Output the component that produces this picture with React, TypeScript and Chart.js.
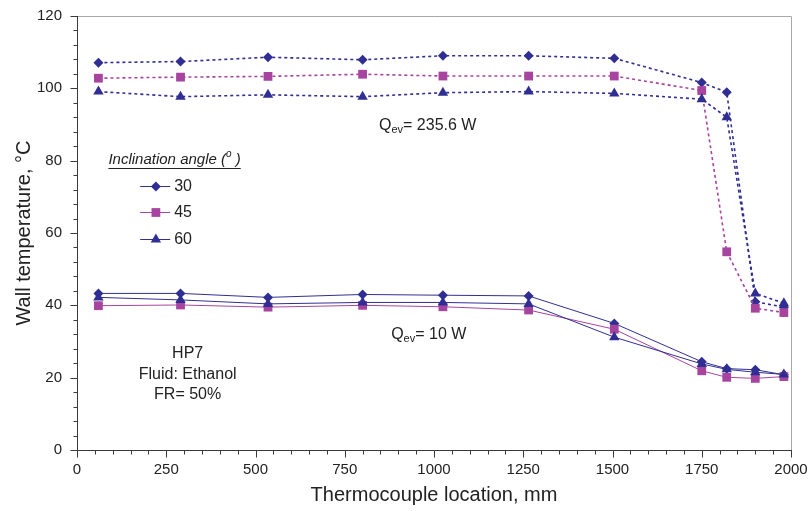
import React, { useEffect, useRef } from 'react';
import { Chart, registerables } from 'chart.js';

Chart.register(...registerables);

// Thermocouple locations (mm)
const locations = [60, 290, 535, 800, 1025, 1265, 1505, 1750, 1820, 1900, 1980];

// Qev = 235.6 W
const high30 = [107.1, 107.4, 108.6, 107.9, 109.0, 109.0, 108.3, 101.6, 98.9, 41.0, 39.5];
const high45 = [102.8, 103.1, 103.3, 103.9, 103.4, 103.4, 103.4, 99.4, 54.8, 39.2, 38.0];
const high60 = [99.1, 97.7, 98.2, 97.7, 98.8, 99.1, 98.6, 97.0, 92.0, 43.3, 40.6];

// Qev = 10 W
const low30 = [43.3, 43.3, 42.2, 43.0, 42.8, 42.6, 35.0, 24.4, 22.5, 22.2, 20.8];
const low45 = [39.9, 40.1, 39.5, 40.0, 39.6, 38.7, 33.4, 21.9, 20.1, 19.8, 20.3];
const low60 = [42.2, 41.5, 40.4, 40.8, 40.8, 40.4, 31.2, 23.8, 22.3, 21.5, 20.9];

const angleLabels = ['30', '45', '60'];
const xTickStep = 250;
const xMinorStep = 50;
const yTickStep = 20;
const yMinorStep = 4;

const NAVY = '#302e93';
const MAGENTA = '#a6449f';
const FONT = '"Liberation Sans", Arial, sans-serif';

const toXY = (ys: number[]) => locations.map((x, i) => ({ x, y: ys[i] }));

type Style = { color: string; point: 'rectRot' | 'rect' | 'triangle'; radius: number };
const styles: Record<string, Style> = {
  '30': { color: NAVY, point: 'rectRot', radius: 5 },
  '45': { color: MAGENTA, point: 'rect', radius: 6.2 },
  '60': { color: NAVY, point: 'triangle', radius: 6 },
};

function drawMarker(ctx: CanvasRenderingContext2D, s: Style, x: number, y: number) {
  const r = s.radius;
  ctx.beginPath();
  if (s.point === 'rectRot') {
    ctx.moveTo(x - r, y);
    ctx.lineTo(x, y - r);
    ctx.lineTo(x + r, y);
    ctx.lineTo(x, y + r);
  } else if (s.point === 'rect') {
    const h = r * Math.SQRT1_2;
    ctx.rect(x - h, y - h, 2 * h, 2 * h);
  } else {
    ctx.moveTo(x, y - r);
    ctx.lineTo(x + r * Math.cos(Math.PI / 6), y + r / 2);
    ctx.lineTo(x - r * Math.cos(Math.PI / 6), y + r / 2);
  }
  ctx.closePath();
  ctx.fillStyle = s.color;
  ctx.fill();
}

function drawQ(ctx: CanvasRenderingContext2D, x: number, y: number, rest: string) {
  ctx.textBaseline = 'middle';
  ctx.textAlign = 'left';
  ctx.fillStyle = '#222';
  ctx.font = `16px ${FONT}`;
  ctx.fillText('Q', x, y);
  let cx = x + ctx.measureText('Q').width;
  ctx.font = `11px ${FONT}`;
  ctx.fillText('ev', cx, y + 5);
  cx += ctx.measureText('ev').width;
  ctx.font = `16px ${FONT}`;
  ctx.fillText(rest, cx, y);
}

const decorPlugin = {
  id: 'decor',
  beforeDatasetsDraw(chart: any) {
    const { ctx, chartArea: a, scales } = chart;
    const xs = scales.x;
    const ys = scales.y;
    ctx.save();
    // light frame (top & right)
    ctx.strokeStyle = '#a8a8a8';
    ctx.lineWidth = 1;
    ctx.beginPath();
    ctx.moveTo(Math.round(a.left), Math.round(a.top) + 0.5);
    ctx.lineTo(Math.round(a.right) + 0.5, Math.round(a.top) + 0.5);
    ctx.lineTo(Math.round(a.right) + 0.5, Math.round(a.bottom));
    ctx.stroke();
    // axes lines
    ctx.strokeStyle = '#3a3a3a';
    const L = Math.round(a.left) + 0.5;
    const B = Math.round(a.bottom) + 0.5;
    ctx.beginPath();
    ctx.moveTo(L, Math.round(a.top));
    ctx.lineTo(L, B);
    ctx.lineTo(Math.round(a.right) + 1, B);
    ctx.stroke();
    // ticks
    ctx.beginPath();
    for (let v = xs.min; v <= xs.max + 0.001; v += xMinorStep) {
      const px = Math.round(xs.getPixelForValue(v)) + 0.5;
      const len = Math.abs(v % xTickStep) < 0.001 ? 7 : 4;
      ctx.moveTo(px, B);
      ctx.lineTo(px, B + len);
    }
    for (let v = ys.min; v <= ys.max + 0.001; v += yMinorStep) {
      const py = Math.round(ys.getPixelForValue(v)) + 0.5;
      const len = Math.abs(v % yTickStep) < 0.001 ? 7 : 4;
      ctx.moveTo(L, py);
      ctx.lineTo(L - len, py);
    }
    ctx.stroke();
    ctx.restore();
  },
  afterDraw(chart: any) {
    const { ctx, scales } = chart;
    const xs = scales.x;
    const ys = scales.y;
    ctx.save();
    // Annotations anchored to data coordinates
    drawQ(ctx, xs.getPixelForValue(846), ys.getPixelForValue(89.8), '= 235.6 W');
    drawQ(ctx, xs.getPixelForValue(880), ys.getPixelForValue(32.0), '= 10 W');

    ctx.font = `16px ${FONT}`;
    ctx.fillStyle = '#222';
    ctx.textAlign = 'center';
    ctx.textBaseline = 'middle';
    const cx = xs.getPixelForValue(310);
    ctx.fillText('HP7', cx, ys.getPixelForValue(26.6));
    ctx.fillText('Fluid: Ethanol', cx, ys.getPixelForValue(20.9));
    ctx.fillText('FR= 50%', cx, ys.getPixelForValue(15.2));

    // Legend
    const lx = xs.getPixelForValue(88);
    const ty = ys.getPixelForValue(80.3);
    ctx.textAlign = 'left';
    ctx.font = `italic 15px ${FONT}`;
    const t1 = 'Inclination angle (';
    ctx.fillText(t1, lx, ty);
    let w = ctx.measureText(t1).width;
    ctx.font = `italic 10px ${FONT}`;
    ctx.fillText('o', lx + w, ty - 5);
    w += ctx.measureText('o').width;
    ctx.font = `italic 15px ${FONT}`;
    ctx.fillText(' )', lx + w, ty);
    w += ctx.measureText(' )').width;
    ctx.strokeStyle = '#222';
    ctx.lineWidth = 1;
    ctx.beginPath();
    ctx.moveTo(lx, Math.round(ty + 8) + 0.5);
    ctx.lineTo(lx + w, Math.round(ty + 8) + 0.5);
    ctx.stroke();

    const rowsY = [73.0, 65.8, 58.3];
    const lineX0 = xs.getPixelForValue(177);
    const lineX1 = xs.getPixelForValue(261);
    const markX = xs.getPixelForValue(221);
    angleLabels.forEach((lab, i) => {
      const s = styles[lab];
      const py = Math.round(ys.getPixelForValue(rowsY[i])) + 0.5;
      ctx.strokeStyle = s.color;
      ctx.lineWidth = 1;
      ctx.beginPath();
      ctx.moveTo(lineX0, py);
      ctx.lineTo(lineX1, py);
      ctx.stroke();
      drawMarker(ctx, s, markX, py);
      ctx.fillStyle = '#222';
      ctx.font = `16px ${FONT}`;
      ctx.fillText(lab, lineX1 + 4, py);
    });
    ctx.restore();
  },
};

function ds(lab: string, ys: number[], dotted: boolean) {
  const s = styles[lab];
  return {
    label: lab,
    data: toXY(ys),
    borderColor: s.color,
    backgroundColor: s.color,
    borderWidth: dotted ? 1.6 : 1,
    borderDash: dotted ? [3, 3] : [],
    pointStyle: s.point,
    pointRadius: s.radius,
    pointBorderWidth: 0,
    pointBackgroundColor: s.color,
    pointBorderColor: s.color,
    tension: 0,
    fill: false,
  };
}

export default function App() {
  const ref = useRef<HTMLCanvasElement | null>(null);
  useEffect(() => {
    if (!ref.current) return;
    const chart = new Chart(ref.current, {
      type: 'line',
      data: {
        datasets: [
          ds('60', low60, false),
          ds('45', low45, false),
          ds('30', low30, false),
          ds('60', high60, true),
          ds('45', high45, true),
          ds('30', high30, true),
        ] as any,
      },
      options: {
        animation: false,
        responsive: false,
        devicePixelRatio: 1,
        layout: { padding: { top: 16, right: 18, left: 0, bottom: 0 } },
        plugins: { legend: { display: false }, tooltip: { enabled: false } },
        scales: {
          x: {
            type: 'linear',
            min: 0,
            max: 2000,
            grid: { display: false, drawTicks: false },
            border: { display: false },
            ticks: {
              stepSize: xTickStep,
              padding: 11,
              color: '#222',
              font: { family: FONT, size: 15 },
              callback: (v: any) => String(v),
            },
            title: {
              display: true,
              text: 'Thermocouple location, mm',
              color: '#222',
              font: { family: FONT, size: 20 },
              padding: { top: 0, bottom: 4 },
            },
            afterFit: (s: any) => {
              s.height = 61;
              s.paddingLeft = 0;
              s.paddingRight = 0;
            },
          },
          y: {
            type: 'linear',
            min: 0,
            max: 120,
            grid: { display: false, drawTicks: false },
            border: { display: false },
            ticks: {
              stepSize: yTickStep,
              padding: 15,
              color: '#222',
              font: { family: FONT, size: 15 },
              callback: (v: any) => String(v),
            },
            title: {
              display: true,
              text: 'Wall temperature, °C',
              color: '#222',
              font: { family: FONT, size: 20 },
              padding: { top: 12, bottom: 0 },
            },
            afterFit: (s: any) => {
              s.width = 77;
              s.paddingTop = 0;
              s.paddingBottom = 0;
            },
          },
        },
      } as any,
      plugins: [decorPlugin],
    });
    return () => chart.destroy();
  }, []);
  return (
    <div style={{ position: 'absolute', left: 0, top: 0, width: 809, height: 511, background: '#fff' }}>
      <canvas ref={ref} width={809} height={511} style={{ display: 'block' }} />
    </div>
  );
}
